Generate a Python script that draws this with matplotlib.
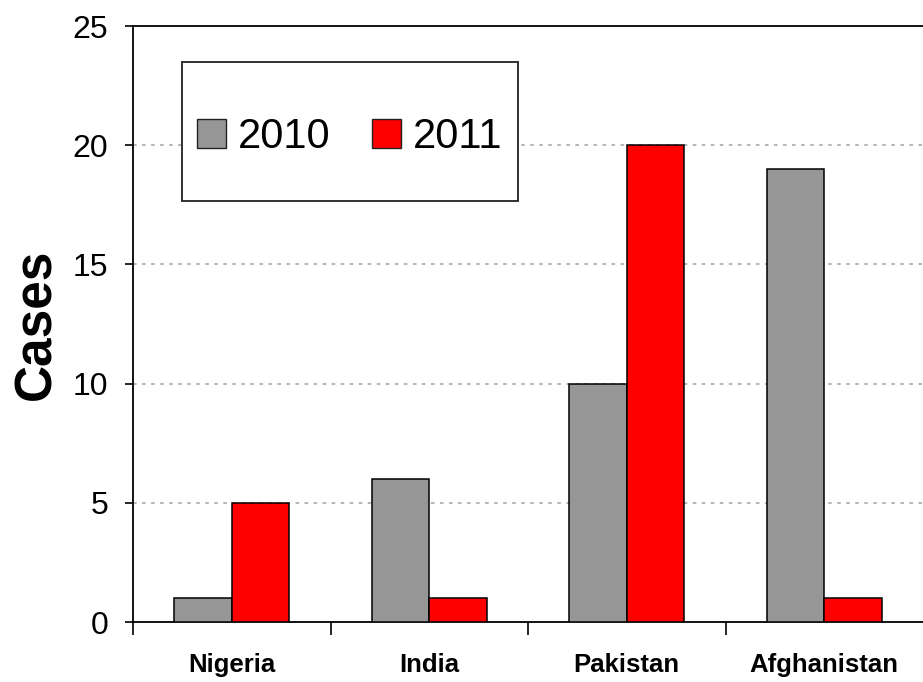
import matplotlib
matplotlib.use("Agg")
import matplotlib.pyplot as plt
import numpy as np
from matplotlib.patches import Rectangle, Patch

categories = ["Nigeria", "India", "Pakistan", "Afghanistan"]
series_2010 = [1, 6, 10, 19]
series_2011 = [5, 1, 20, 1]
series_labels = ["2010", "2011"]
yticks = [0, 5, 10, 15, 20, 25]

plt.rcParams['font.family'] = ['Liberation Sans', 'DejaVu Sans']

fig = plt.figure(figsize=(9.23, 6.82), dpi=100)
ax = fig.add_axes([133/923, 1-622/682, 790/923, 596/682])

x = np.arange(len(categories))
w = 0.29
c2010 = '#969696'
c2011 = '#ff0000'
ax.bar(x - w/2, series_2010, w, color=c2010, edgecolor='black', linewidth=1.1, zorder=3)
ax.bar(x + w/2, series_2011, w, color=c2011, edgecolor='black', linewidth=1.1, zorder=3)

ax.set_xlim(-0.5, len(categories) - 0.5)
ax.set_ylim(0, 25)
ax.set_yticks(yticks)
ax.set_yticklabels([str(t) for t in yticks], fontsize=23)
ax.set_xticks(x)
ax.set_xticklabels(categories, fontsize=18.5, fontweight='bold')
ax.tick_params(axis='x', length=0, pad=22)
ax.set_xticks(np.arange(len(categories)) - 0.5, minor=True)
ax.tick_params(axis='x', which='minor', length=9, width=1.2, direction='out')
ax.tick_params(axis='y', length=6, width=1.2, direction='out', pad=12)

for t in yticks[1:-1]:
    ax.axhline(t, color='#b0b0b0', linestyle=(0, (2, 3)), linewidth=1.3, zorder=1)

ax.spines['right'].set_visible(False)
for s in ['left', 'bottom', 'top']:
    ax.spines[s].set_linewidth(1.3)
    ax.spines[s].set_color('black')

ax.set_ylabel("Cases", fontsize=37, fontweight='bold', labelpad=8)

# legend box
x0 = (182-133)/790; x1 = (518-133)/790
y0 = (622-201)/596; y1 = (622-62)/596
ax.add_patch(Rectangle((x0, y0), x1-x0, y1-y0, transform=ax.transAxes,
                       facecolor='white', edgecolor='#222222', linewidth=1.3, zorder=4))
handles = [Patch(facecolor=c2010, edgecolor='#222222', linewidth=1),
           Patch(facecolor=c2011, edgecolor='#222222', linewidth=1)]
leg = ax.legend(handles, series_labels, loc='center',
                bbox_to_anchor=((x0+x1)/2, (622-137)/596),
                bbox_transform=ax.transAxes, ncol=2, frameon=False, fontsize=30,
                handlelength=0.68, handleheight=0.68, handletextpad=0.3, columnspacing=1.0)
leg.set_zorder(5)

fig.savefig("out.png", dpi=100)
